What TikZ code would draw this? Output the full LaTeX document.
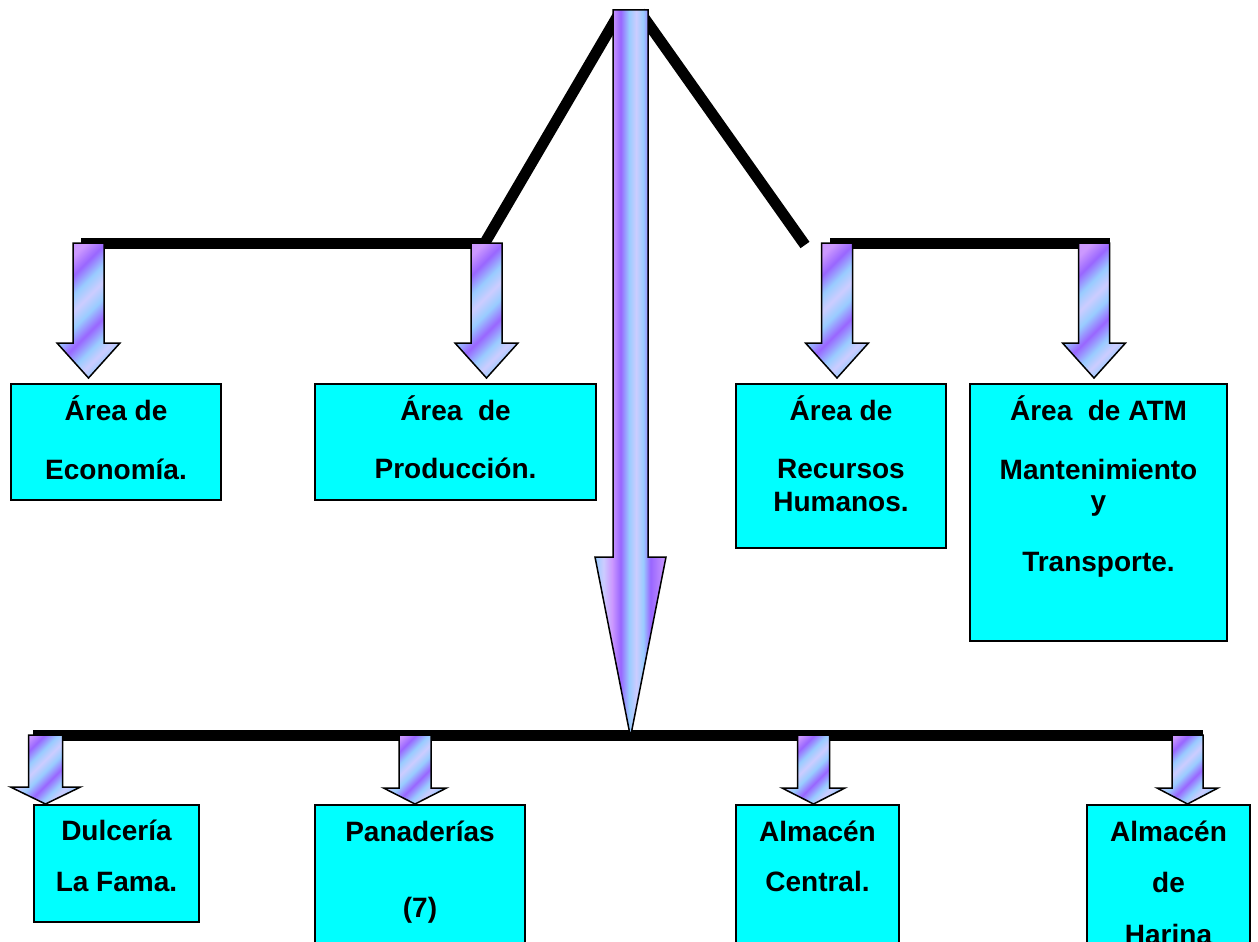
\documentclass[tikz,border=0pt]{standalone}
\usepackage{fontspec}
\setmainfont{Liberation Sans}
\definecolor{lil}{HTML}{CC99FF}
\definecolor{pur}{HTML}{9966FF}
\definecolor{lbl}{HTML}{99CCFF}
\definecolor{lav}{HTML}{CCCCFF}
\definecolor{boxcyan}{HTML}{00FFFF}
\pgfdeclarehorizontalshading{smallstripes}{100bp}{color(0bp)=(lil); color(25bp)=(lil); color(32bp)=(pur); color(39bp)=(lbl); color(45bp)=(lav); color(51bp)=(lbl); color(58bp)=(pur); color(65bp)=(lbl); color(70bp)=(lav); color(75bp)=(lbl); color(100bp)=(lbl)}
\pgfdeclarehorizontalshading{bigstripes}{100bp}{color(0bp)=(lbl); color(25bp)=(lbl); color(31bp)=(lav); color(37bp)=(lil); color(43bp)=(pur); color(49bp)=(lbl); color(54bp)=(lav); color(59bp)=(lbl); color(64bp)=(pur); color(75bp)=(lil); color(100bp)=(lil)}
\newcommand\blockarrow[7]{%
  \path[#1] (#2-#6,#3) -- (#2+#6,#3) -- (#2+#6,#4) -- (#2+#7,#4) -- (#2,#5)
    -- (#2-#7,#4) -- (#2-#6,#4) -- cycle;}
\tikzset{
  bar/.style={line width=11pt, black},
  smallarrow/.style={draw=black, line width=1.5pt, line join=miter, shading=smallstripes, shading angle=-45},
  bigarrow/.style={draw=black, line width=1.5pt, line join=miter, shading=bigstripes, shading angle=0},
  box/.style={draw=black, line width=2pt, fill=boxcyan, inner sep=0pt},
  txt/.style={anchor=base, inner sep=0pt, font=\fontsize{28}{34}\selectfont\bfseries}
}
\begin{document}
\begin{tikzpicture}[x=1pt, y=-1pt]
\useasboundingbox (0,0) rectangle (1258,942);
\clip (0,0) rectangle (1258,942);
% connector lines
\coordinate (topL) at (620,12);
\coordinate (topR) at (640,12);
\coordinate (jL) at (483,246);
\coordinate (jR) at (805,245);
\coordinate (h1a) at (81,243);
\coordinate (h1b) at (483,243);
\coordinate (h2a) at (830,243);
\coordinate (h2b) at (1110,243);
\coordinate (h3a) at (33,735);
\coordinate (h3b) at (1203,735);
\draw[bar] (jL) -- (topL);
\draw[bar] (jR) -- (topR);
\draw[bar] (h1a) -- (h1b);
\draw[bar] (h2a) -- (h2b);
\draw[bar] (h3a) -- (h3b);
% big arrow
\blockarrow{bigarrow}{630.5}{10}{557}{737}{17.5}{35.5}
% upper small arrows
\blockarrow{smallarrow}{88.5}{243}{343}{378}{15.5}{31.5}
\blockarrow{smallarrow}{486.5}{243}{343}{378}{15.5}{31.5}
\blockarrow{smallarrow}{837}{243}{343}{378}{15.5}{31.5}
\blockarrow{smallarrow}{1094}{243}{343}{378}{15.5}{31.5}
% lower small arrows
\blockarrow{smallarrow}{45.5}{735}{787}{804}{17}{35}
\blockarrow{smallarrow}{415}{735}{788}{804}{16}{31.5}
\blockarrow{smallarrow}{813.5}{735}{788}{804}{16}{31.5}
\blockarrow{smallarrow}{1187.5}{735}{788}{804}{15.5}{30.5}
% boxes
\node[box, minimum width=210pt, minimum height=116pt] (b1) at (116,442) {};
\node[box, minimum width=281pt, minimum height=116pt] (b2) at (455.5,442) {};
\node[box, minimum width=210pt, minimum height=164pt] (b3) at (841,466) {};
\node[box, minimum width=257pt, minimum height=257pt] (b4) at (1098.5,512.5) {};
\node[box, minimum width=165pt, minimum height=117pt] (b5) at (116.5,863.5) {};
\node[box, minimum width=210pt, minimum height=195pt] (b6) at (420,902.5) {};
\node[box, minimum width=163pt, minimum height=195pt] (b7) at (817.5,902.5) {};
\node[box, minimum width=163pt, minimum height=195pt] (b8) at (1168.5,902.5) {};
% texts
\node[txt] (t1a) at (116,420) {Área de};
\node[txt] (t1b) at (116,479) {Economía.};
\node[txt] (t2a) at (455.5,420) {Área\ \ de};
\node[txt] (t2b) at (455.5,478) {Producción.};
\node[txt] (t3a) at (841,420) {Área de};
\node[txt] (t3b) at (841,478) {Recursos};
\node[txt] (t3c) at (841,511) {Humanos.};
\node[txt] (t4a) at (1098.5,420) {Área\ \ de ATM};
\node[txt] (t4b) at (1098.5,479) {Mantenimiento};
\node[txt] (t4c) at (1098.5,510) {y};
\node[txt] (t4d) at (1098.5,571) {Transporte.};
\node[txt] (t5a) at (116.5,840) {Dulcería};
\node[txt] (t5b) at (116.5,891) {La Fama.};
\node[txt] (t6a) at (420,841) {Panaderías};
\node[txt] (t6b) at (420,917) {(7)};
\node[txt] (t7a) at (817.5,841) {Almacén};
\node[txt] (t7b) at (817.5,891) {Central.};
\node[txt] (t8a) at (1168.5,841) {Almacén};
\node[txt] (t8b) at (1168.5,892) {de};
\node[txt] (t8c) at (1168.5,944) {Harina};
\end{tikzpicture}
\end{document}
